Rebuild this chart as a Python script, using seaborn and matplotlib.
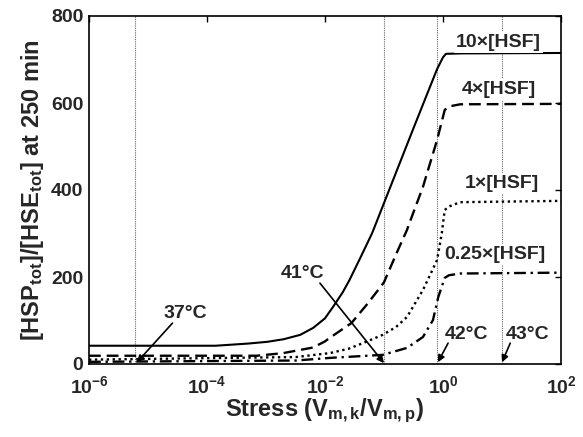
import numpy as np
import pandas as pd
import matplotlib
matplotlib.use("Agg")
import matplotlib.pyplot as plt
import seaborn as sns

# ---- data ----
stress_10x = [1e-6, 1.4e-4, 5e-4, 1.05e-3, 2e-3, 3.8e-3, 6.3e-3, 1e-2, 1.38e-2, 2e-2, 2.6e-2, 4e-2, 6.3e-2, 0.1, 0.316, 0.794, 1.0, 1.12, 2.0, 100]
hsp_10x    = [42,   42,     47,   51,      57,   67,     83,     105,  132,     165,  193,    245,  301,    370,  542,   678,   705,  713,  714,  715]

stress_4x = [1e-6, 7e-4, 1.95e-3, 6.3e-3, 1e-2, 1.2e-2, 2.8e-2, 5e-2, 8.5e-2, 0.1, 0.166, 0.245, 0.275, 0.457, 0.794, 1.07, 1.26, 1.95, 100]
hsp_4x    = [19,   19,   25,      38,     52,   60,     94,     135,  175,    188, 257,   308,   327,   407,   515,   584,  592,  597,  598]

stress_1x = [1e-6, 3.2e-3, 1.2e-2, 2.5e-2, 4.4e-2, 9.5e-2, 0.16, 0.245, 0.457, 0.794, 0.955, 1.07, 1.26, 1.95, 100]
hsp_1x    = [10,   16,     25,     35,     48,     67,     85,   108,   170,   239,   301,   354,  362,  372,  375]

stress_025x = [1e-6, 3.2e-3, 1.2e-2, 9.5e-2, 0.245, 0.457, 0.676, 0.832, 1.07, 1.26, 1.95, 100]
hsp_025x    = [5,    8,      14,     21,     37,    62,    101,   154,   198,  204,  208,  210]

series_labels = ["10\u00d7[HSF]", "4\u00d7[HSF]", "1\u00d7[HSF]", "0.25\u00d7[HSF]"]
temp_lines = [6e-6, 0.1, 0.8, 10]
temp_labels = ["37\u00b0C", "41\u00b0C", "42\u00b0C", "43\u00b0C"]

xticks = [1e-6, 1e-4, 1e-2, 1, 1e2]
xtick_labels = [r"10$^{-6}$", r"10$^{-4}$", r"10$^{-2}$", r"10$^{0}$", r"10$^{2}$"]
yticks = [0, 200, 400, 600, 800]

# ---- style ----
sns.set_theme(style="white")
plt.rcParams["font.family"] = ["Liberation Sans", "DejaVu Sans"]
plt.rcParams["font.weight"] = "bold"
plt.rcParams["mathtext.fontset"] = "custom"
plt.rcParams["mathtext.rm"] = "Liberation Sans:bold"
plt.rcParams["mathtext.bf"] = "Liberation Sans:bold"
plt.rcParams["mathtext.it"] = "Liberation Sans:bold"
plt.rcParams["mathtext.default"] = "rm"

fig = plt.figure(figsize=(5.83, 4.37), dpi=100)
ax = fig.add_axes([89/583, 1-364/437, (561-89)/583, (364-16)/437])

for xv in temp_lines:
    ax.axvline(xv, color="#666666", lw=0.8, ls=(0, (1, 1)), zorder=1)

styles = [("-", 1.5), ((0, (5, 2.5)), 1.7), ((0, (1, 1.5)), 1.7), ((0, (5, 2, 1, 2)), 1.7)]
data_sets = [(stress_10x, hsp_10x), (stress_4x, hsp_4x), (stress_1x, hsp_1x), (stress_025x, hsp_025x)]
for (xs, ys), (ls, lw) in zip(data_sets, styles):
    df = pd.DataFrame({"stress": xs, "hsp": ys})
    sns.lineplot(data=df, x="stress", y="hsp", ax=ax, color="black", lw=lw,
                 linestyle=ls, estimator=None, sort=True, zorder=3)

ax.set_xscale("log")
ax.set_xlim(1e-6, 1e2)
ax.set_ylim(0, 800)
ax.set_xticks(xticks)
ax.set_xticklabels(xtick_labels)
ax.minorticks_off()
ax.set_yticks(yticks)
ax.tick_params(axis="both", which="both", direction="in", top=True, right=True,
               length=4, width=1, color="black", labelsize=14, pad=4)
ax.tick_params(axis="x", pad=8)
for sp in ax.spines.values():
    sp.set_color("black")
    sp.set_linewidth(1.2)

ax.set_xlabel(r"Stress (V$_{\mathrm{m,k}}$/V$_{\mathrm{m,p}}$)", fontsize=17, fontweight="bold", labelpad=0)
ax.set_ylabel(r"[HSP$_{\mathrm{tot}}$]/[HSE$_{\mathrm{tot}}$] at 250 min", fontsize=17, fontweight="bold", labelpad=4)

# series labels (white boxes hide the grid line behind)
label_pos = [(8.8, 740), (8.8, 630), (10, 415), (7.6, 251)]
for txt, (xv, yv) in zip(series_labels, label_pos):
    ax.text(xv, yv, txt, ha="center", va="center", fontsize=14, fontweight="bold",
            bbox=dict(facecolor="white", edgecolor="none", pad=1.5), zorder=4)

# temperature annotations
text_pos = [(4.3e-5, 117), (4.1e-3, 209), (2.5, 67), (27, 67)]
arrow_from = [(2.6e-5, 94), (8.2e-3, 186), (1.22, 48), (13.8, 48)]
arrow_to = [(6.5e-6, 4), (0.1, 2), (0.82, 4), (10, 4)]
for txt, tp, af, at in zip(temp_labels, text_pos, arrow_from, arrow_to):
    ax.text(tp[0], tp[1], txt, ha="center", va="center", fontsize=14, fontweight="bold", zorder=5)
    ax.annotate("", xy=at, xytext=af,
                arrowprops=dict(arrowstyle="-|>", color="black", lw=1.2,
                                mutation_scale=10, shrinkA=0, shrinkB=0), zorder=5)

fig.savefig("out.png", dpi=100)
